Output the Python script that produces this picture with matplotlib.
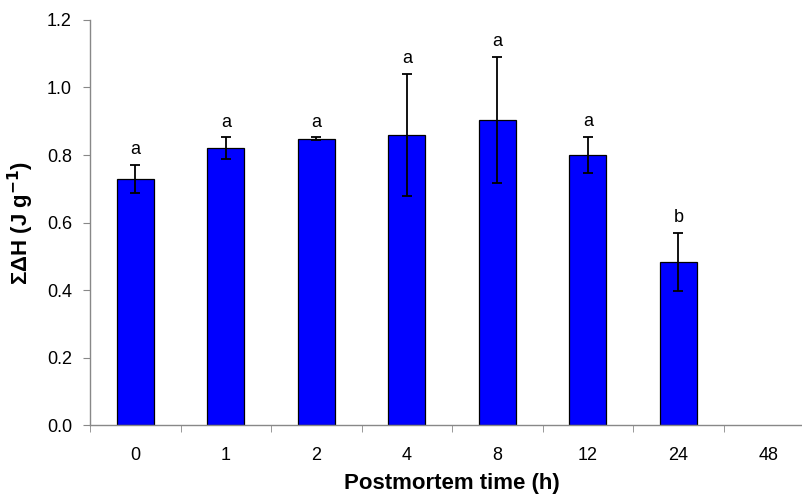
import matplotlib
matplotlib.use("Agg")
import matplotlib.pyplot as plt
import numpy as np

plt.rcParams['font.family'] = ['Liberation Sans', 'DejaVu Sans']

# data
times = ['0', '1', '2', '4', '8', '12', '24', '48']
delta_h = [0.729, 0.820, 0.848, 0.859, 0.904, 0.800, 0.483, 0.0]
err = [0.042, 0.032, 0.004, 0.180, 0.186, 0.054, 0.087, 0.0]
letters = ['a', 'a', 'a', 'a', 'a', 'a', 'b', '']

fig = plt.figure(figsize=(8.02, 4.96), dpi=100)
ax = fig.add_axes([0.1122, 0.1431, 0.903, 0.8166])

x = np.arange(len(times))
# 48 h has no value in the figure, so skip empty bars
has = [v > 0 for v in delta_h]
xs = [xi for xi, h in zip(x, has) if h]
vs = [v for v, h in zip(delta_h, has) if h]
es = [e for e, h in zip(err, has) if h]
ax.bar(xs, vs, width=0.41, color='#0000ff', edgecolor='black', linewidth=0.9, zorder=2)
ax.errorbar(xs, vs, yerr=es, fmt='none', ecolor='black', elinewidth=1.3,
            capsize=3.5, capthick=1.3, zorder=3)
for xi, v, e, lab in zip(x, delta_h, err, letters):
    if lab:
        ax.annotate(lab, (xi, v + e), xytext=(0, 5), textcoords='offset points',
                    ha='center', va='bottom', fontsize=13)

ax.set_xlim(-0.5, len(times) - 0.5)
ax.set_ylim(0, 1.2)
ax.set_yticks(np.arange(0, 1.21, 0.2))
ax.set_yticklabels(['%.1f' % t for t in np.arange(0, 1.21, 0.2)], fontsize=13)
ax.set_xticks(x)
ax.set_xticklabels(times, fontsize=13)
ax.set_xticks(np.arange(-0.5, len(times), 1), minor=True)
ax.tick_params(axis='x', which='major', length=0, pad=16)
ax.tick_params(axis='x', which='minor', length=5, color='#888888', direction='out')
ax.tick_params(axis='y', length=5, color='#888888', direction='out', pad=8)

for s in ['top', 'right']:
    ax.spines[s].set_visible(False)
for s in ['left', 'bottom']:
    ax.spines[s].set_color('#888888')
    ax.spines[s].set_linewidth(1.0)

ax.set_xlabel('Postmortem time (h)', fontsize=16, fontweight='bold', labelpad=6)
ax.set_ylabel('ΣΔH (J g$^{\\mathbf{-1}}$)', fontsize=16, fontweight='bold', labelpad=8)

fig.savefig('out.png', dpi=100)
